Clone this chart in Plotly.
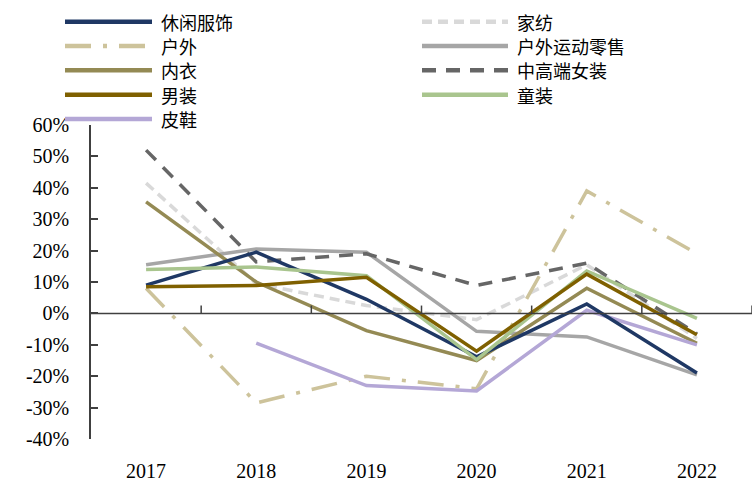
import plotly.graph_objects as go

years = ["2017", "2018", "2019", "2020", "2021", "2022"]
y_ticks = [60, 50, 40, 30, 20, 10, 0, -10, -20, -30, -40]

xiuxian = [9, 19.5, 4.5, -13.8, 3, -19]        # 休闲服饰
jiafang = [41.5, 9.5, 2.5, -2, 15.5, -8]       # 家纺
huwai = [8, -28.5, -20, -24, 39, 19]           # 户外
huwai_yd = [15.5, 20.5, 19.5, -5.7, -7.5, -19.6] # 户外运动零售
neiyi = [35.5, 10, -5.5, -15, 8, -9.5]         # 内衣
nvzhuang = [52, 16.4, 19, 8.9, 16, -6.5]       # 中高端女装
nanzhuang = [8.5, 8.9, 11.5, -12, 12.5, -6.8]  # 男装
tongzhuang = [14, 14.8, 12, -14.7, 13.5, -1.6] # 童装
pixie = [None, -9.5, -23, -24.7, 1, -10]       # 皮鞋

series = [
    ("休闲服饰", xiuxian, "#1f3864", "solid"),
    ("家纺", jiafang, "#d9d9d9", "10px,6px"),
    ("户外", huwai, "#cdc39b", "26px,12px,4px,12px"),
    ("户外运动零售", huwai_yd, "#a6a6a6", "solid"),
    ("内衣", neiyi, "#948a54", "solid"),
    ("中高端女装", nvzhuang, "#666666", "14px,10px"),
    ("男装", nanzhuang, "#7f6000", "solid"),
    ("童装", tongzhuang, "#a9c58e", "solid"),
    ("皮鞋", pixie, "#b4a7d6", "solid"),
]

W, H = 753, 483
ML, MR, MT, MB = 91, 1, 125, 42

fig = go.Figure()
draw_order = ["家纺", "户外运动零售", "中高端女装", "户外", "内衣", "皮鞋", "休闲服饰", "童装", "男装"]
lookup = {s[0]: s for s in series}
for name in draw_order:
    n, vals, col, dash = lookup[name]
    fig.add_trace(go.Scatter(x=years, y=vals, mode="lines", name=n,
                             line=dict(color=col, width=3.5, dash=dash),
                             showlegend=False, connectgaps=False))

shapes = []
annotations = []
# zero line and category-boundary ticks
shapes.append(dict(type="line", xref="paper", yref="y", x0=0, x1=1, y0=0, y1=0,
                   line=dict(color="#404040", width=1.5)))
for i in range(len(years)):
    shapes.append(dict(type="line", xref="x", yref="y", x0=i + 0.5, x1=i + 0.5,
                       y0=0, y1=2.5, line=dict(color="#404040", width=1.5)))

# manual legend
col_x = [(65, 152, 160), (422, 508, 516)]
row_y = [21, 45.5, 70, 94.5, 119]
for idx, (n, vals, col, dash) in enumerate(series):
    c = idx % 2
    r = idx // 2
    x0, x1, xt = col_x[c]
    yy = row_y[r]
    shapes.append(dict(type="line", xref="paper", yref="paper",
                       x0=(x0 - ML) / (W - ML - MR), x1=(x1 - ML) / (W - ML - MR),
                       y0=(H - MB - yy) / (H - MT - MB), y1=(H - MB - yy) / (H - MT - MB),
                       line=dict(color=col, width=4.5, dash=dash)))
    annotations.append(dict(xref="paper", yref="paper",
                            x=(xt - ML) / (W - ML - MR), y=(H - MB - yy) / (H - MT - MB),
                            text=n, showarrow=False, xanchor="left", yanchor="middle",
                            borderpad=0,
                            font=dict(family="Noto Sans CJK SC", size=18, color="#000000")))

fig.update_layout(
    width=W, height=H,
    margin=dict(l=ML, r=MR, t=MT, b=MB),
    paper_bgcolor="white", plot_bgcolor="white",
    shapes=shapes, annotations=annotations,
    xaxis=dict(type="category", categoryarray=years, range=[-0.5, 5.5],
               showline=False, showgrid=False, zeroline=False, ticks="",
               ticklabelstandoff=18,
               tickfont=dict(family="Liberation Serif", size=20, color="#000000")),
    yaxis=dict(range=[-40, 60], tickvals=y_ticks,
               ticktext=[f"{v}%" for v in y_ticks],
               showline=True, linecolor="#404040", linewidth=1.5,
               ticks="inside", ticklen=7, tickcolor="#404040", tickwidth=1.5,
               ticklabelstandoff=16,
               showgrid=False, zeroline=False,
               tickfont=dict(family="Liberation Serif", size=20, color="#000000")),
)

fig.write_html("out.html")
